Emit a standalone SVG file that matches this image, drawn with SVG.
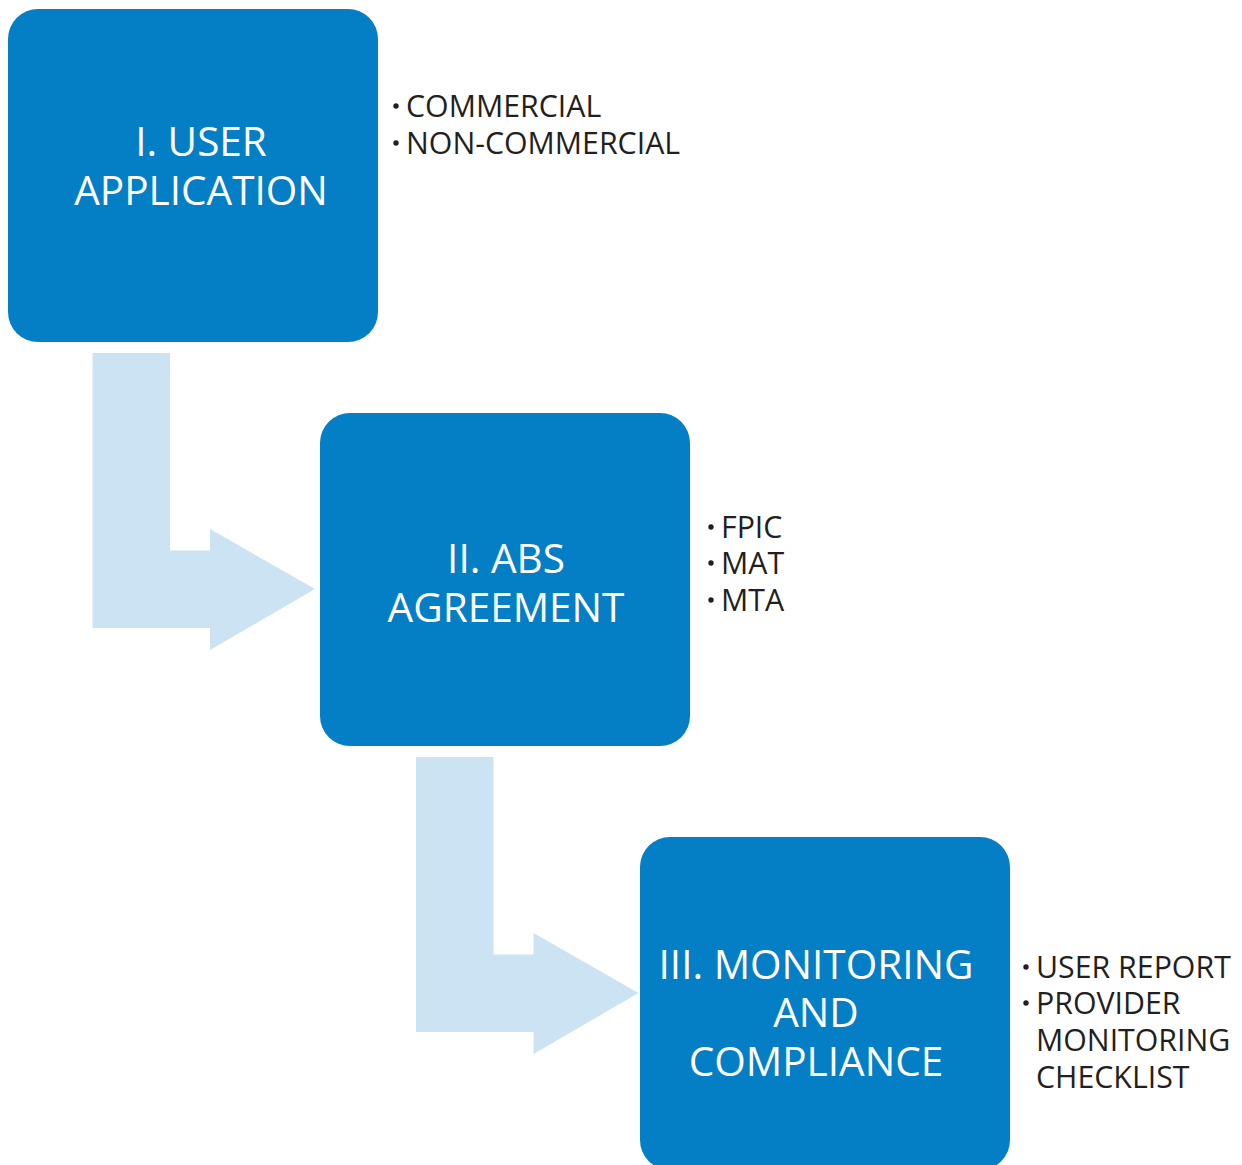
<svg xmlns="http://www.w3.org/2000/svg" width="1242" height="1165" viewBox="0 0 1242 1165">
  <style>
    .box { fill: #047ec4; }
    .flow { fill: #cbe3f2; }
    .title { font-family: "Open Sans", "Liberation Sans", sans-serif; font-weight: 400; font-size: 40.5px; fill: #ffffff; text-anchor: middle; }
    .item { font-family: "Open Sans", "Liberation Sans", sans-serif; font-size: 30.3px; fill: #231f20; }
    .dot { fill: #231f20; }
  </style>

  <!-- flow arrows between stages -->
  <g id="connectors">
    <path class="flow" d="M92.5,353 H170 V550.5 H210 V529 L315,589 L210,650 V628 H92.5 Z"/>
    <path class="flow" d="M416,757 H493.5 V954.5 H533.5 V933 L638.5,993 L533.5,1054 V1032 H416 Z"/>
  </g>

  <!-- stage I -->
  <g id="user-application">
    <rect class="box" x="8" y="9" width="370" height="333" rx="30" ry="30"/>
    <text class="title" x="201" y="156">I. USER</text>
    <text class="title" x="201" y="205">APPLICATION</text>
  </g>
  <g id="user-application-notes">
    <circle class="dot" cx="396" cy="106" r="2.7"/>
    <text class="item" x="406" y="117">COMMERCIAL</text>
    <circle class="dot" cx="396" cy="143" r="2.7"/>
    <text class="item" x="406" y="154">NON-COMMERCIAL</text>
  </g>

  <!-- stage II -->
  <g id="abs-agreement">
    <rect class="box" x="320" y="413" width="370" height="333" rx="30" ry="30"/>
    <text class="title" x="506" y="573">II. ABS</text>
    <text class="title" x="506" y="622">AGREEMENT</text>
  </g>
  <g id="abs-agreement-notes">
    <circle class="dot" cx="711" cy="527" r="2.7"/>
    <text class="item" x="721" y="538">FPIC</text>
    <circle class="dot" cx="711" cy="563" r="2.7"/>
    <text class="item" x="721" y="574">MAT</text>
    <circle class="dot" cx="711" cy="600" r="2.7"/>
    <text class="item" x="721" y="611">MTA</text>
  </g>

  <!-- stage III -->
  <g id="monitoring-compliance">
    <rect class="box" x="640" y="837" width="370" height="333" rx="30" ry="30"/>
    <text class="title" x="816" y="979">III. MONITORING</text>
    <text class="title" x="816" y="1027">AND</text>
    <text class="title" x="816" y="1076">COMPLIANCE</text>
  </g>
  <g id="monitoring-compliance-notes">
    <circle class="dot" cx="1026" cy="967" r="2.7"/>
    <text class="item" x="1036" y="978">USER REPORT</text>
    <circle class="dot" cx="1026" cy="1003" r="2.7"/>
    <text class="item" x="1036" y="1014">PROVIDER</text>
    <text class="item" x="1036" y="1051">MONITORING</text>
    <text class="item" x="1036" y="1088">CHECKLIST</text>
  </g>
</svg>
